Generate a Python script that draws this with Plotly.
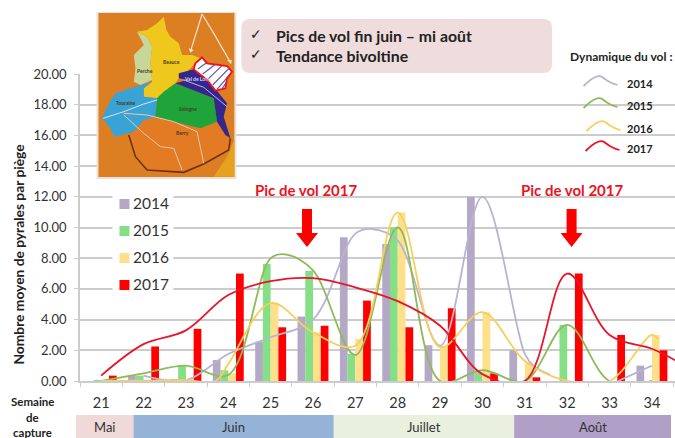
import plotly.graph_objects as go

# ---------- data ----------
weeks = list(range(21, 35))
week_labels = [str(w) for w in weeks]
years = ["2014", "2015", "2016", "2017"]
bars_2014 = [0, 0.35, 0.1, 1.37, 2.57, 4.2, 9.37, 8.93, 2.33, 12.0, 2.0, 0, 0, 1.0]
bars_2015 = [0.05, 0.35, 1.0, 0.7, 7.63, 7.17, 1.76, 10.0, 0, 0.57, 0, 3.65, 0, 0]
bars_2016 = [0.05, 0.05, 0.1, 0.5, 5.07, 3.17, 2.74, 10.97, 2.3, 4.48, 1.2, 0, 0, 3.0]
bars_2017 = [0.35, 2.25, 3.4, 7.0, 3.5, 3.6, 5.24, 3.5, 4.74, 0.5, 0.24, 7.0, 3.0, 2.0]

curve_x_2014 = [22, 23, 24, 25, 26, 27, 27.4, 28, 29, 30, 31, 31.2, 31.6, None, 33.2, 34]
curve_y_2014 = [0.35, 0.05, 1.76, 2.85, 4.0, 9.6, 9.9, 9.15, 2.3, 12.0, 1.76, 1.0, 0.4, None, 0.0, 1.0]
curve_x_2015 = [21, 22, 23, 24, 25, 25.35, 26, 27, 28, 29, 30, 31, 32, 33, 34]
curve_y_2015 = [0, 0.5, 1.0, 0.4, 8.0, 8.25, 7.2, 1.7, 10.0, 0, 0.7, 0, 3.65, 0, 0]
curve_x_2016 = [21, 22, 23, 23.7, 24, 25, 26, 27, 28, 29, 30, 31, 32, 33, 34, 34.15]
curve_y_2016 = [0, 0.03, 0.05, 0, 1.1, 5.07, 3.17, 2.3, 10.97, 2.2, 4.48, 1.3, 0, 0, 3.0, 2.7]
curve_x_2017 = [21, 22, 23, 24, 25, 26, 27, 28, 29, 30, 31, 32, 33, 34, 34.55]
curve_y_2017 = [0.35, 2.4, 3.3, 5.6, 6.5, 6.7, 6.1, 5.2, 3.6, 0.45, 0, 7.0, 3.0, 2.1, 1.35]

month_names = ["Mai", "Juin", "Juillet", "Août"]
y_ticks = [0, 2, 4, 6, 8, 10, 12, 14, 16, 18, 20]

# ---------- layout geometry ----------
W, H = 675, 438
L, R, T, B = 79.5, 675, 74, 381
FONT = "Lato"
DARK = "#333333"
BAR_COLORS = ["#B3A9C6", "#85E085", "#FFE08A", "#FF0000"]
LINE_COLORS = ["#B9B3D3", "#8DBB5A", "#F8CF5C", "#E8142A"]


def fx(px):
    return (px - L) / (R - L)


def fy(py):
    return (B - py) / (B - T)


def poly(points, scale=1.0, close=True):
    parts = []
    for i, (a, b) in enumerate(points):
        parts.append(f"{'M' if i == 0 else 'L'}{fx(a * scale):.5f},{fy(b * scale):.5f}")
    return " ".join(parts) + (" Z" if close else "")


shapes = []


def add_path(path, fill=None, line=None, width=0):
    shapes.append(dict(type="path", xref="paper", yref="paper", path=path, layer="above",
                       fillcolor=fill if fill else "rgba(0,0,0,0)",
                       line=dict(color=line if line else "rgba(0,0,0,0)", width=width)))


def add_rect(x0, y0, x1, y1, fill):
    shapes.append(dict(type="rect", xref="paper", yref="paper", layer="above", fillcolor=fill,
                       x0=fx(x0), x1=fx(x1), y0=fy(y1), y1=fy(y0), line=dict(width=0)))


annotations = []


def note(text, x, y, size=12, color=DARK, bold=False, angle=0, anchor="center", family=FONT):
    annotations.append(dict(text=f"<b>{text}</b>" if bold else text, xref="paper", yref="paper",
                            x=fx(x), y=fy(y), showarrow=False, textangle=angle, xanchor=anchor,
                            yanchor="middle", font=dict(family=family, size=size, color=color)))


# ---------- map (zoom-pixel outlines, scale 1/3) ----------
S = 1 / 3
add_rect(96, 12, 236, 179, "#E9E2DA")
add_rect(98, 13, 234, 177, "#DC7E22")
add_path(poly([(640, 530), (702, 530), (702, 420), (680, 470)], S), fill="#E6A21E")
# Berry
add_path(poly([(465, 350), (520, 365), (600, 385), (650, 365), (690, 415), (685, 450), (610, 490), (550, 517),
               (440, 510), (400, 440), (385, 405), (430, 360)], S), fill="#E37A24")
add_path(poly([(385, 405), (405, 470), (440, 510), (550, 517), (610, 492), (685, 450), (690, 415)], S, False),
         line="#6B3212", width=1.6)
# Perche
add_path(poly([(410, 95), (440, 110), (455, 140), (450, 190), (455, 240), (420, 255), (400, 245), (405, 205),
               (400, 165), (430, 135)], S), fill="#C9D69A")
# Beauce
add_path(poly([(490, 50), (498, 90), (510, 110), (535, 130), (545, 165), (575, 165), (600, 175), (580, 195),
               (560, 215), (535, 235), (525, 250), (490, 275), (470, 295), (430, 290), (430, 265), (455, 245),
               (450, 190), (455, 140), (440, 110), (410, 95), (440, 90), (470, 70)], S), fill="#EFC81E")
# Touraine
add_path(poly([(400, 262), (455, 245), (430, 265), (430, 290), (470, 295), (465, 350), (430, 360), (400, 395),
               (340, 410), (330, 385), (305, 355), (325, 310), (345, 280)], S), fill="#3AA3D6")
# Sologne
add_path(poly([(525, 250), (590, 275), (640, 295), (650, 365), (600, 385), (520, 365), (465, 350), (470, 295),
               (490, 275)], S), fill="#1FA33B")
# Val de Loire
add_path(poly([(535, 220), (580, 208), (640, 260), (680, 310), (670, 350), (690, 415), (675, 405), (650, 365),
               (640, 295), (590, 275), (525, 250), (560, 240), (535, 235)], S), fill="#33278E")
# hatched area
hatched = [(605, 172), (620, 190), (680, 198), (695, 215), (680, 235), (675, 265), (645, 272), (620, 240),
           (580, 208), (585, 190)]
add_path(poly(hatched, S), fill="#FFFFFF")
for seg in [[(592, 207), (622, 186)], [(607, 222), (645, 193)], [(622, 238), (665, 197)], [(637, 255), (685, 206)],
            [(650, 268), (690, 222)], [(665, 266), (680, 245)]]:
    add_path(poly(seg, S, False), line="#5A5AA5", width=1.2)
add_path(poly(hatched, S), line="#F01020", width=1.8)
# roads and arrows
road = "#E8C9A8"
add_path(poly([(308, 355), (370, 335), (430, 312), (470, 300)], S, False), line="#CFE6F2", width=1)
add_path(poly([(370, 340), (440, 345), (520, 365), (590, 395), (610, 490)], S, False), line=road, width=1)
add_path(poly([(370, 345), (430, 400), (480, 440), (520, 445), (545, 510)], S, False), line=road, width=1)
add_path(poly([(550, 240), (610, 262), (680, 320)], S, False), line="#B9B5E0", width=1)
add_path(poly([(605, 42), (570, 155)], S, False), line="#F5E3D2", width=1.2)
add_path(poly([(605, 42), (640, 100), (692, 190)], S, False), line="#F5E3D2", width=1.2)
add_path(poly([(565, 145), (580, 150), (570, 158)], S), fill="#F5E3D2")
add_path(poly([(680, 180), (694, 180), (692, 192)], S), fill="#F5E3D2")
for label, xz, yz in [("Perche", 433, 212), ("Beauce", 513, 185), ("Touraine", 378, 308), ("Sologne", 562, 328),
                      ("Val de Loire", 590, 238), ("Berry", 547, 400)]:
    note(label, xz * S, yz * S, size=5, color="#D8D8F0" if label.startswith("Val") else "#4A3A20", bold=True)

# ---------- pink message box ----------
rx0, ry0, rx1, ry1, rr = fx(241), fy(19), fx(552), fy(73), 9
kx, ky = rr / (R - L), rr / (B - T)
add_path(f"M{rx0 + kx:.5f},{ry0:.5f} L{rx1 - kx:.5f},{ry0:.5f} Q{rx1:.5f},{ry0:.5f} {rx1:.5f},{ry0 - ky:.5f} "
         f"L{rx1:.5f},{ry1 + ky:.5f} Q{rx1:.5f},{ry1:.5f} {rx1 - kx:.5f},{ry1:.5f} "
         f"L{rx0 + kx:.5f},{ry1:.5f} Q{rx0:.5f},{ry1:.5f} {rx0:.5f},{ry1 + ky:.5f} "
         f"L{rx0:.5f},{ry0 - ky:.5f} Q{rx0:.5f},{ry0:.5f} {rx0 + kx:.5f},{ry0:.5f} Z", fill="#EFDCDC")
note("✓", 256, 34, size=14, color="#222222", family="DejaVu Sans", bold=True)
note("✓", 256, 54, size=14, color="#222222", family="DejaVu Sans", bold=True)
note("Pics de vol fin juin – mi août", 274, 36, size=15.8, color="#222222", bold=True, anchor="left")
note("Tendance bivoltine", 274, 56, size=15.8, color="#222222", bold=True, anchor="left")

# ---------- small line legend, top right ----------
note("Dynamique du vol :", 621.5, 57, size=12, color="#222222", bold=True)
for yr, col, x0, y0 in zip(years, LINE_COLORS, [583.5, 583.5, 586.5, 585.5], [86, 108, 131, 151]):
    a, b = fx(x0), fy(y0)
    dx, dy = 1 / (R - L), 1 / (B - T)
    add_path(f"M{a:.5f},{b:.5f} Q{a + 14 * dx:.5f},{b + 14 * dy:.5f} {a + 20 * dx:.5f},{b + 8 * dy:.5f} "
             f"Q{a + 26 * dx:.5f},{b + 3 * dy:.5f} {a + 34 * dx:.5f},{b + 1 * dy:.5f}", line=col, width=1.8)
    note(yr, 640, y0 - 3, size=11, color="#222222", bold=True)

# ---------- bar key, inside the plot ----------
add_rect(112, 193, 173, 297, "#FFFFFF")
for yr, col, yc in zip(years, BAR_COLORS, [204, 231, 258, 285]):
    add_rect(119, yc - 5, 129, yc + 5, col)
    note(yr, 131, yc - 1, size=15.5, color="#333333", anchor="left")

# ---------- red arrows and their captions ----------
for cx in (306.7, 571.5):
    add_path(poly([(cx - 5, 209), (cx + 5, 209), (cx + 5, 233), (cx + 11, 233), (cx, 247), (cx - 11, 233),
                   (cx - 5, 233)]), fill="#FF0000")
note("Pic de vol 2017", 306, 190, size=15, color="#EE1122", bold=True)
note("Pic de vol 2017", 572, 190, size=15, color="#EE1122", bold=True)

# ---------- month bands ----------
for name, x0, x1, col in zip(month_names, [75.5, 133, 333.5, 514], [133, 333.5, 514, 671],
                             ["#EFD9D9", "#95B3D7", "#EAF0DE", "#B0A0C8"]):
    add_rect(x0, 415, x1, 438, col)
    note(name, (x0 + x1) / 2, 427, size=13, color="#333333")

# ---------- side labels ----------
note("Nombre moyen de pyrales par piège", 17, 255, size=13.8, color="#222222", bold=True, angle=-90)
note("Semaine", 32, 401, size=11.5, color="#222222", bold=True)
note("de", 32, 417, size=11.5, color="#222222", bold=True)
note("capture", 32, 432, size=11.5, color="#222222", bold=True)

# ---------- traces ----------
fig = go.Figure()
for name, vals, col in zip(years, [bars_2014, bars_2015, bars_2016, bars_2017], BAR_COLORS):
    fig.add_trace(go.Bar(x=weeks, y=vals, name=name, marker=dict(color=col, line=dict(width=0)), showlegend=False))
for name, xs, ys, col in zip(years, [curve_x_2014, curve_x_2015, curve_x_2016, curve_x_2017],
                             [curve_y_2014, curve_y_2015, curve_y_2016, curve_y_2017], LINE_COLORS):
    fig.add_trace(go.Scatter(x=xs, y=ys, mode="lines", name=f"Dynamique {name}", showlegend=False,
                             line=dict(color=col, width=1.8, shape="spline", smoothing=1.0)))

grid = "#CCCCCC"
fig.update_layout(
    width=W, height=H, autosize=False, margin=dict(l=L, r=W - R, t=T, b=H - B, pad=0),
    paper_bgcolor="white", plot_bgcolor="white", barmode="group", bargap=0.27, bargroupgap=0,
    font=dict(family=FONT, color=DARK), showlegend=False,
    shapes=shapes, annotations=annotations,
    xaxis=dict(range=[20.5, 20.5 + (R - L) / 42.4], tickmode="array", tickvals=weeks, ticktext=week_labels,
               tickfont=dict(size=14.5, color="#333333"), ticks="", ticklabelstandoff=8, showgrid=False,
               zeroline=False, showline=True, linecolor=grid, linewidth=1.5,
               minor=dict(tick0=20.5, dtick=1, ticks="outside", ticklen=4, tickcolor=grid, showgrid=False)),
    yaxis=dict(range=[0, 20], tickmode="array", tickvals=y_ticks, tickformat=".2f",
               tickfont=dict(size=13, color="#333333"), ticks="outside", ticklen=4, tickcolor=grid,
               ticklabelstandoff=5, showgrid=True, gridcolor=grid, gridwidth=1.5, zeroline=False, showline=True,
               linecolor=grid, linewidth=1.5),
)
fig.write_html("out.html", post_script="document.body.style.margin='0';", config={"displayModeBar": False})
